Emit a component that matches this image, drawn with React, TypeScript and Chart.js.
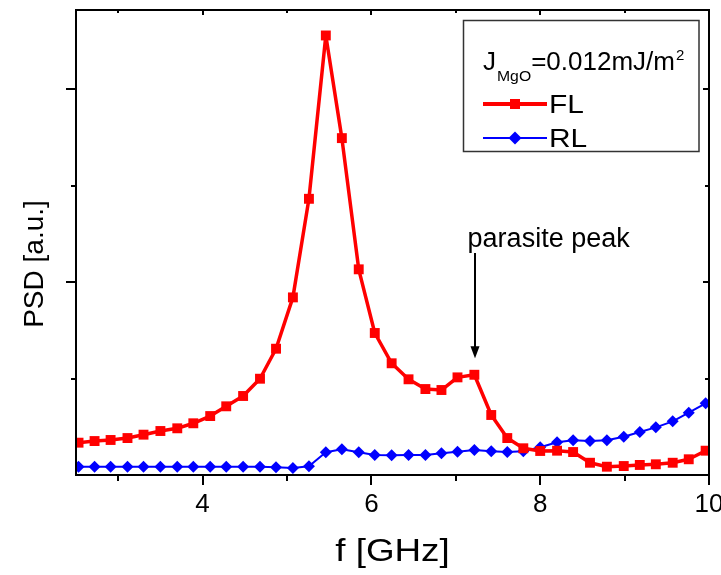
import React, { useEffect, useRef } from 'react';
import { Chart, registerables } from 'chart.js';

Chart.register(...registerables);

// ---------- data ----------
const freqGHz = [
  2.53, 2.72, 2.91, 3.11, 3.3, 3.5, 3.7, 3.89, 4.09, 4.28,
  4.48, 4.68, 4.87, 5.07, 5.26, 5.46, 5.65, 5.85, 6.04, 6.24,
  6.44, 6.64, 6.83, 7.02, 7.22, 7.42, 7.61, 7.8, 8.0, 8.2,
  8.39, 8.59, 8.79, 8.99, 9.18, 9.37, 9.57, 9.76, 9.96,
];
const flPSD = [
  0.335, 0.352, 0.363, 0.383, 0.418, 0.456, 0.484, 0.536, 0.611, 0.712,
  0.819, 0.998, 1.309, 1.841, 2.863, 4.556, 3.492, 2.132, 1.472, 1.158,
  0.992, 0.891, 0.881, 1.012, 1.039, 0.622, 0.383, 0.277, 0.249, 0.252,
  0.238, 0.127, 0.086, 0.093, 0.104, 0.111, 0.127, 0.163, 0.252,
];
const rlPSD = [
  0.086, 0.086, 0.086, 0.086, 0.086, 0.086, 0.086, 0.086, 0.086, 0.086,
  0.086, 0.086, 0.08, 0.073, 0.09, 0.235, 0.266, 0.235, 0.207, 0.204,
  0.207, 0.207, 0.225, 0.241, 0.259, 0.246, 0.238, 0.246, 0.287, 0.339,
  0.36, 0.352, 0.36, 0.397, 0.446, 0.494, 0.556, 0.646, 0.743,
];
const seriesNames = ['FL', 'RL'];
const xTickValues = [3, 4, 5, 6, 7, 8, 9, 10];
const xLabelValues = [4, 6, 8, 10];
const yTickValues = [1, 2, 3, 4];
const yMajorValues = [2, 4];
const xRange = [2.5, 10];
const yRange = [0, 4.82];
const xTitle = 'f [GHz]';
const yTitle = 'PSD [a.u.]';
const legendMain = 'J';
const legendSub = 'MgO';
const legendRest = '=0.012mJ/m';
const legendSup = '2';
const annotationText = 'parasite peak';
const annotationPoint = [7.23, 1.21]; // arrow tip (data units)
const annotationTail = 2.3; // arrow start (y, data units)
const annotationLabel = [8.1, 2.36]; // label centre x / baseline y (data units)

const FONT = "'Liberation Sans', Arial, Helvetica, sans-serif";
const RED = '#ff0000';
const BLUE = '#0000ff';

function drawStretched(ctx: CanvasRenderingContext2D, text: string, x: number, y: number, sx: number, align: 'left' | 'center' = 'left') {
  const w = ctx.measureText(text).width * sx;
  const x0 = align === 'center' ? x - w / 2 : x;
  ctx.save();
  ctx.translate(x0, y);
  ctx.scale(sx, 1);
  ctx.textAlign = 'left';
  ctx.fillText(text, 0, 0);
  ctx.restore();
  return w;
}

const decorPlugin = {
  id: 'decor',
  afterDatasetsDraw(chart: any) {
    const { ctx, chartArea: a, scales } = chart;
    const xs = scales.x;
    const ys = scales.y;
    ctx.save();
    ctx.strokeStyle = '#000';
    ctx.fillStyle = '#000';
    ctx.lineWidth = 2;
    ctx.lineCap = 'butt';

    // frame
    ctx.strokeRect(a.left, a.top, a.right - a.left, a.bottom - a.top);

    // x ticks
    ctx.beginPath();
    xTickValues.forEach((v) => {
      const px = Math.round(xs.getPixelForValue(v));
      const major = xLabelValues.includes(v);
      ctx.moveTo(px, a.bottom);
      ctx.lineTo(px, a.bottom + (major ? 10 : 6));
      ctx.moveTo(px, a.top);
      ctx.lineTo(px, a.top + (major ? 5 : 3));
    });
    // y ticks
    yTickValues.forEach((v) => {
      const py = Math.round(ys.getPixelForValue(v));
      const major = yMajorValues.includes(v);
      ctx.moveTo(a.left, py);
      ctx.lineTo(a.left - (major ? 10 : 5), py);
      ctx.moveTo(a.right, py);
      ctx.lineTo(a.right - (major ? 6 : 4), py);
    });
    ctx.stroke();

    // axis titles
    ctx.textBaseline = 'alphabetic';
    ctx.font = `32px ${FONT}`;
    drawStretched(ctx, xTitle, (a.left + a.right) / 2, 561, 1.15, 'center');

    ctx.save();
    ctx.translate(43, 264);
    ctx.rotate(-Math.PI / 2);
    ctx.font = `28px ${FONT}`;
    ctx.textAlign = 'center';
    ctx.fillText(yTitle, 0, 0);
    ctx.restore();

    // annotation arrow + label
    const ax = Math.round(xs.getPixelForValue(annotationPoint[0]));
    const tipY = ys.getPixelForValue(annotationPoint[1]);
    const tailY = ys.getPixelForValue(annotationTail);
    ctx.beginPath();
    ctx.moveTo(ax, tailY);
    ctx.lineTo(ax, tipY - 8);
    ctx.stroke();
    ctx.beginPath();
    ctx.moveTo(ax - 4.5, tipY - 12);
    ctx.lineTo(ax + 4.5, tipY - 12);
    ctx.lineTo(ax, tipY);
    ctx.closePath();
    ctx.fill();
    ctx.font = `27px ${FONT}`;
    ctx.textAlign = 'center';
    ctx.fillText(annotationText, xs.getPixelForValue(annotationLabel[0]), ys.getPixelForValue(annotationLabel[1]));

    // legend box
    ctx.strokeStyle = '#333';
    ctx.lineWidth = 1.5;
    ctx.strokeRect(463.5, 20.5, 235.5, 131);

    ctx.fillStyle = '#000';
    ctx.textAlign = 'left';
    let x = 483;
    ctx.font = `26px ${FONT}`;
    x += drawStretched(ctx, legendMain, x, 70, 1.0) + 1;
    ctx.font = `15px ${FONT}`;
    x += drawStretched(ctx, legendSub, x, 81, 1.05);
    ctx.font = `26px ${FONT}`;
    x += drawStretched(ctx, legendRest, x, 70, 1.0) + 1;
    ctx.font = `15px ${FONT}`;
    drawStretched(ctx, legendSup, x, 60, 1.0);

    // FL row
    ctx.strokeStyle = RED;
    ctx.fillStyle = RED;
    ctx.lineWidth = 4;
    ctx.beginPath();
    ctx.moveTo(483, 104);
    ctx.lineTo(547, 104);
    ctx.stroke();
    ctx.fillRect(510, 99, 10, 10);
    // RL row
    ctx.strokeStyle = BLUE;
    ctx.fillStyle = BLUE;
    ctx.lineWidth = 2;
    ctx.beginPath();
    ctx.moveTo(483, 138);
    ctx.lineTo(547, 138);
    ctx.stroke();
    ctx.beginPath();
    ctx.moveTo(515 - 6.5, 138);
    ctx.lineTo(515, 138 - 6.5);
    ctx.lineTo(515 + 6.5, 138);
    ctx.lineTo(515, 138 + 6.5);
    ctx.closePath();
    ctx.fill();

    ctx.fillStyle = '#000';
    ctx.font = `26px ${FONT}`;
    drawStretched(ctx, seriesNames[0], 549, 113, 1.15);
    drawStretched(ctx, seriesNames[1], 549, 147, 1.15);

    ctx.restore();
  },
};

export default function App() {
  const ref = useRef<HTMLCanvasElement | null>(null);

  useEffect(() => {
    if (!ref.current) return;
    Chart.defaults.font.family = FONT;
    const chart = new Chart(ref.current, {
      type: 'line',
      data: {
        datasets: [
          {
            label: seriesNames[0],
            data: freqGHz.map((f, i) => ({ x: f, y: flPSD[i] })),
            borderColor: RED,
            backgroundColor: RED,
            borderWidth: 3.5,
            borderJoinStyle: 'round',
            pointStyle: 'rect',
            pointRadius: 7,
            pointBorderWidth: 0,
            pointBackgroundColor: RED,
            tension: 0,
          },
          {
            label: seriesNames[1],
            data: freqGHz.map((f, i) => ({ x: f, y: rlPSD[i] })),
            borderColor: BLUE,
            backgroundColor: BLUE,
            borderWidth: 2,
            borderJoinStyle: 'round',
            pointStyle: 'rectRot',
            pointRadius: 6,
            pointBorderWidth: 0,
            pointBackgroundColor: BLUE,
            tension: 0,
          },
        ],
      },
      options: {
        animation: false,
        responsive: false,
        devicePixelRatio: 1,
        layout: { padding: { top: 10, right: 12, left: 0, bottom: 0 } },
        plugins: {
          legend: { display: false },
          tooltip: { enabled: false },
        },
        scales: {
          x: {
            type: 'linear',
            min: xRange[0],
            max: xRange[1],
            grid: { display: false, drawTicks: false },
            border: { display: false },
            afterFit: (s: any) => {
              s.height = 100;
              s.paddingLeft = 0;
              s.paddingRight = 0;
            },
            ticks: {
              stepSize: 1,
              autoSkip: false,
              maxRotation: 0,
              padding: 14,
              color: '#000',
              font: { size: 26, family: FONT },
              callback: (v: any) => {
                const n = Number(v);
                return xLabelValues.some((t) => Math.abs(t - n) < 1e-6) ? String(Math.round(n)) : '';
              },
            },
          },
          y: {
            type: 'linear',
            min: yRange[0],
            max: yRange[1],
            grid: { display: false, drawTicks: false },
            border: { display: false },
            ticks: { display: false },
            afterFit: (s: any) => {
              s.width = 76;
              s.paddingTop = 0;
              s.paddingBottom = 0;
            },
          },
        },
      },
      plugins: [decorPlugin],
    });
    return () => chart.destroy();
  }, []);

  return (
    <div style={{ position: 'absolute', left: 0, top: 0, width: 721, height: 575, background: '#fff' }}>
      <canvas ref={ref} width={721} height={575} style={{ display: 'block' }} />
    </div>
  );
}
